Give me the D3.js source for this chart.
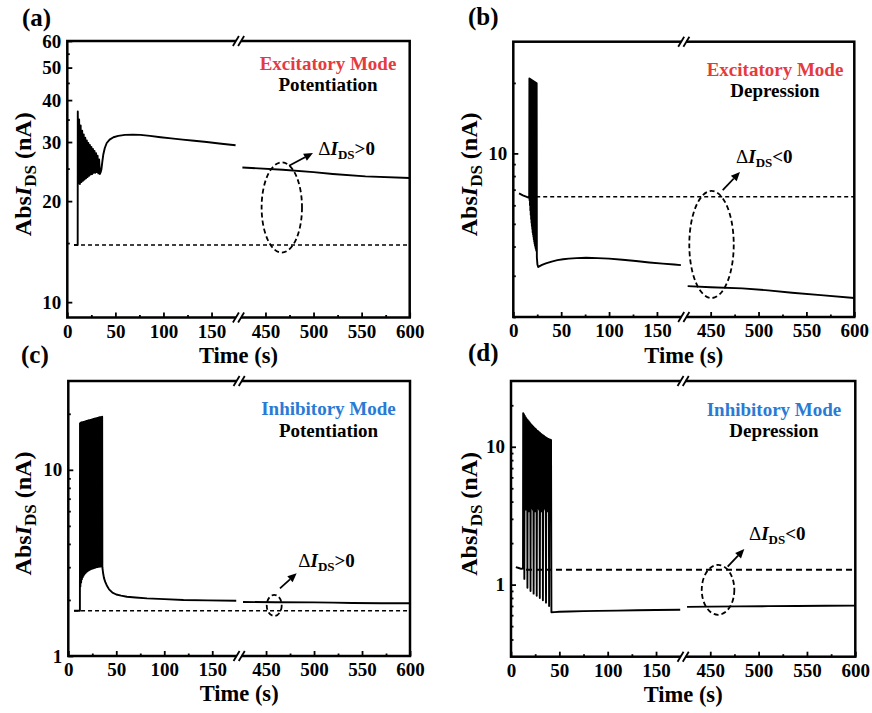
<!DOCTYPE html>
<html>
<head>
<meta charset="utf-8">
<script src="https://cdn.jsdelivr.net/npm/d3@7"></script>
<style>
  body { margin: 0; background: #fff; }
  svg { display: block; }
  text { font-family: "Liberation Serif", "Times New Roman", serif; font-weight: bold; }
</style>
</head>
<body>
<svg id="fig" width="872" height="713"></svg>
<script>
// ---------- data: time (s) vs |I_DS| (nA) ----------
// (a) excitatory mode, potentiation
const aEarly = [[7,14.8],[10.8,14.8],[10.9,37.0],[11.5,22.6],[12.3,35.0],[13.1,22.5],[13.9,33.6],[14.7,22.8],[15.5,32.4],[16.3,23.0],[17.1,31.6],[17.9,23.2],[18.7,30.9],[19.5,23.4],[20.3,30.3],[21.1,23.6],[21.9,29.8],[22.7,23.8],[23.5,29.4],[24.3,24.0],[25.1,29.0],[25.9,24.1],[26.7,28.6],[27.5,24.3],[28.3,28.2],[29.1,24.3],[29.9,27.8],[30.7,24.4],[31.5,27.3],[32.3,24.2],[33.1,26.6],[33.9,24.1],[34.7,24.4],[35.5,24.9],[36.5,26.3],[37.5,27.6],[39,28.8],[41,29.8],[44,30.5],[48,31.0],[53,31.3],[60,31.5],[68,31.55],[76,31.5],[86,31.3],[97,31.0],[108,30.75],[120,30.5],[132,30.25],[145,30.0],[158,29.7],[170,29.45],[175,29.35]];
const aLate = [[426,25.2],[468,24.8],[500,24.4],[520,24.1],[554,23.7],[600,23.45]];
const aBase = 14.8;

// (b) excitatory mode, depression
const bEarly = [[6,6.75],[10,6.62],[14,6.52],[16.6,6.45],[16.8,20.9],[17.0,6.3],[17.2,20.85],[17.4,6.0],[17.6,20.8],[17.8,5.7],[18.0,20.75],[18.2,5.45],[18.4,20.7],[18.6,5.25],[18.8,20.65],[19.0,5.05],[19.2,20.6],[19.4,4.9],[19.6,20.55],[19.8,4.75],[20.0,20.5],[20.2,4.6],[20.4,20.45],[20.6,4.5],[20.8,20.4],[21.0,4.4],[21.2,20.35],[21.4,4.3],[21.6,20.3],[21.8,4.2],[22.0,20.25],[22.2,4.12],[22.4,20.2],[22.6,4.05],[22.8,20.15],[23.0,3.98],[23.2,20.1],[23.4,3.92],[23.6,20.05],[23.8,3.87],[24.0,20.0],[24.2,3.83],[24.4,19.95],[24.6,3.6],[25.2,3.35],[26,3.27],[27,3.29],[30,3.34],[34,3.39],[40,3.45],[46,3.5],[52,3.53],[58,3.55],[66,3.57],[76,3.58],[88,3.57],[100,3.55],[114,3.51],[128,3.47],[142,3.42],[156,3.38],[168,3.35],[175,3.33]];
const bLate = [[426,2.71],[450,2.68],[483,2.65],[510,2.6],[535,2.54],[565,2.48],[600,2.41]];
const bBase = 6.52;

// (c) inhibitory mode, potentiation
const cEarly = [[6,1.75],[12.1,1.75],[12.2,17.8],[12.6,2.36],[13.0,17.9],[13.4,2.48],[13.8,17.95],[14.2,2.58],[14.6,18.0],[15.0,2.65],[15.4,18.05],[15.8,2.7],[16.2,18.1],[16.6,2.74],[17.0,18.15],[17.4,2.77],[17.8,18.2],[18.2,2.8],[18.6,18.25],[19.0,2.83],[19.4,18.3],[19.8,2.85],[20.2,18.35],[20.6,2.87],[21.0,18.4],[21.4,2.89],[21.8,18.45],[22.2,2.9],[22.6,18.5],[23.0,2.92],[23.4,18.55],[23.8,2.93],[24.2,18.6],[24.6,2.94],[25.0,18.65],[25.4,2.95],[25.8,18.7],[26.2,2.96],[26.6,18.75],[27.0,2.97],[27.4,18.8],[27.8,2.98],[28.2,18.85],[28.6,2.99],[29.0,18.9],[29.4,3.0],[29.8,18.95],[30.2,3.0],[30.6,19.0],[31.0,3.01],[31.4,19.05],[31.8,3.01],[32.2,19.1],[32.6,3.02],[33.0,19.15],[33.4,3.02],[33.8,19.2],[34.2,3.03],[34.6,19.25],[35.0,3.03],[35.3,19.3],[35.5,3.0],[36.2,2.8],[37.2,2.62],[38.5,2.5],[40,2.4],[42.5,2.28],[46,2.19],[50,2.14],[55,2.11],[61,2.08],[70,2.06],[82,2.04],[100,2.02],[120,2.0],[145,1.99],[175,1.98]];
const cLate = [[426,1.95],[460,1.945],[500,1.94],[520,1.935],[540,1.925],[570,1.92],[600,1.92]];
const cBase = 1.75;

// (d) inhibitory mode, depression
const dEarly = [[5,1.34],[8,1.32],[10.5,1.3],[12.4,1.31],[12.6,17.5],[13.0,3.6],[13.4,17.2],[13.8,1.1],[14.2,16.8],[14.6,3.8],[15.0,16.4],[15.4,3.5],[15.8,16.1],[16.2,3.9],[16.6,15.8],[17.0,0.95],[17.4,15.6],[17.8,3.7],[18.2,15.35],[18.6,3.4],[19.0,15.1],[19.4,3.8],[19.8,14.85],[20.2,0.9],[20.6,14.6],[21.0,3.6],[21.4,14.4],[21.8,3.9],[22.2,14.2],[22.6,3.5],[23.0,14.0],[23.4,0.86],[23.8,13.8],[24.2,3.7],[24.6,13.65],[25.0,3.4],[25.4,13.5],[25.8,3.8],[26.2,13.3],[26.6,0.83],[27.0,13.1],[27.4,3.6],[27.8,13.0],[28.2,3.9],[28.6,12.85],[29.0,3.5],[29.4,12.7],[29.8,0.8],[30.2,12.6],[30.6,3.7],[31.0,12.45],[31.4,3.4],[31.8,12.3],[32.2,3.8],[32.6,12.2],[33.0,0.77],[33.4,12.1],[33.8,3.6],[34.2,12.0],[34.6,3.9],[35.0,11.85],[35.4,3.5],[35.8,11.75],[36.2,0.74],[36.6,11.65],[37.0,3.7],[37.4,11.55],[37.8,3.4],[38.2,11.45],[38.6,3.8],[39.0,11.4],[39.4,0.7],[39.8,11.3],[40.2,3.6],[40.6,11.25],[41.0,3.7],[41.4,11.2],[41.8,0.63],[45,0.632],[50,0.635],[60,0.638],[75,0.642],[90,0.645],[110,0.648],[130,0.651],[150,0.654],[175,0.657]];
const dLate = [[426,0.69],[450,0.692],[480,0.695],[510,0.698],[540,0.7],[570,0.702],[600,0.704]];
const dBase = 1.28;

// axis ticks
const xMajor1 = [0, 50, 100, 150], xMajor2 = [450, 500, 550, 600];
const xMinor1 = [25, 75, 125], xMinor2 = [475, 525, 575];
const aYMajor = [10, 20, 30, 40, 50, 60];
const aYMinor = [15, 25, 35, 45, 55];
const bYMajor = [10];
const bYMinor = [2, 3, 4, 5, 6, 7, 8, 9, 20];
const cYMajor = [1, 10];
const cYMinor = [2, 3, 4, 5, 6, 7, 8, 9, 20];
const dYMajor = [1, 10];
const dYMinor = [0.4, 0.5, 0.6, 0.7, 0.8, 0.9, 2, 3, 4, 5, 6, 7, 8, 9, 20];

// visible pieces of the broken time axis
const SEG1 = [0, 177], SEG2 = [423, 600];

const RED = '#e53b40', BLUE = '#2a7ad5';

const panels = [
  { tag: '(a)', tagX: 22, tagY: 26, L: 67.3, R: 409.7, T: 41, B: 317.5, yDom: [9, 60],
    yMajor: aYMajor, yMinor: aYMinor, early: aEarly, late: aLate, base: aBase, baseFrom: 7, baseDash: '4,3', baseW: 1.5,
    mode: 'Excitatory Mode', modeColor: RED, kind: 'Potentiation', textX: 328, modeY: 69.5, kindY: 90.5,
    ell: { t0: 446, t1: 488, iTop: 26.1, iBot: 14.05 }, arrow: [[474.5, 25.5], [499.4, 27.8]],
    note: { t: 505, i: 27.5, sign: '>0' }, ytitleX: 31, xtitleY: 362.5 },
  { tag: '(b)', tagX: 468, tagY: 25, L: 513.3, R: 854.3, T: 41.7, B: 317, yDom: [2, 30],
    yMajor: bYMajor, yMinor: bYMinor, early: bEarly, late: bLate, base: bBase, baseFrom: 16.6, baseDash: '4,3', baseW: 1.5,
    mode: 'Excitatory Mode', modeColor: RED, kind: 'Depression', textX: 775, modeY: 76, kindY: 97,
    ell: { t0: 427.7, t1: 474.1, iTop: 6.91, iBot: 2.41 }, arrow: [[462.6, 6.96], [480.6, 8.33]],
    note: { t: 476.5, i: 9.14, sign: '<0' }, ytitleX: 477, xtitleY: 362.5 },
  { tag: '(c)', tagX: 21, tagY: 363, L: 68.3, R: 410, T: 381, B: 656, yDom: [1, 30],
    yMajor: cYMajor, yMinor: cYMinor, early: cEarly, late: cLate, base: cBase, baseFrom: 6, baseDash: '4,3', baseW: 1.5,
    mode: 'Inhibitory Mode', modeColor: BLUE, kind: 'Potentiation', textX: 328.5, modeY: 415, kindY: 437,
    ell: { t0: 450.7, t1: 466.3, iTop: 2.13, iBot: 1.64 }, arrow: [[464.5, 2.31], [481.9, 2.78]],
    note: { t: 483.6, i: 3.02, sign: '>0' }, ytitleX: 31, xtitleY: 701 },
  { tag: '(d)', tagX: 468, tagY: 361, L: 511, R: 855.3, T: 381, B: 656.7, yDom: [0.3, 30],
    yMajor: dYMajor, yMinor: dYMinor, early: dEarly, late: dLate, base: dBase, baseFrom: 15.5, baseDash: '6,4', baseW: 2,
    mode: 'Inhibitory Mode', modeColor: BLUE, kind: 'Depression', textX: 774, modeY: 416, kindY: 437,
    ell: { t0: 441.2, t1: 474.9, iTop: 1.39, iBot: 0.604 }, arrow: [[468, 1.35], [485.2, 1.81]],
    note: { t: 490, i: 2.11, sign: '<0' }, ytitleX: 477, xtitleY: 702 }
];

const svg = d3.select('#fig');
const fmt = d3.format('~g');
const TICK_FONT = 19;

panels.forEach((p, idx) => {
  const g = svg.append('g');
  const gap = 2, w = (p.R - p.L - gap) / 2;
  const x1 = d3.scaleLinear().domain(SEG1).range([p.L, p.L + w]);
  const x2 = d3.scaleLinear().domain(SEG2).range([p.R - w, p.R]);
  const xOf = t => (t <= SEG1[1] ? x1(t) : x2(t));
  const y = d3.scaleLog().domain(p.yDom).range([p.B, p.T]);

  const clipId = 'clip' + idx;
  g.append('clipPath').attr('id', clipId).append('rect')
    .attr('x', p.L).attr('y', p.T).attr('width', p.R - p.L).attr('height', p.B - p.T);

  // reference level before stimulation
  g.append('line')
    .attr('x1', xOf(p.baseFrom)).attr('x2', x2(600))
    .attr('y1', y(p.base)).attr('y2', y(p.base))
    .attr('stroke', '#000').attr('stroke-width', p.baseW).attr('stroke-dasharray', p.baseDash);

  // measured current, drawn per visible time window
  const line = d3.line().y(d => y(d[1]));
  const plot = g.append('g').attr('clip-path', `url(#${clipId})`);
  plot.append('path').datum(p.early).attr('d', line.x(d => x1(d[0])))
    .attr('fill', 'none').attr('stroke', '#000').attr('stroke-width', 1.9).attr('stroke-linejoin', 'round');
  plot.append('path').datum(p.late).attr('d', line.x(d => x2(d[0])))
    .attr('fill', 'none').attr('stroke', '#000').attr('stroke-width', 1.9).attr('stroke-linejoin', 'round');

  // x axes (two windows)
  const gx = g.append('g').attr('transform', `translate(0,${p.B})`);
  [[x1, xMajor1, xMinor1], [x2, xMajor2, xMinor2]].forEach(([sc, maj, min]) => {
    gx.append('g')
      .call(d3.axisBottom(sc).tickValues(maj).tickSize(-5).tickPadding(7).tickFormat(d3.format('d')))
      .attr('font-size', TICK_FONT).attr('font-family', null)
      .call(a => a.select('.domain').remove())
      .call(a => a.selectAll('line').attr('stroke-width', 1.8));
    gx.append('g')
      .call(d3.axisBottom(sc).tickValues(min).tickSize(-2.5).tickFormat(''))
      .call(a => a.select('.domain').remove())
      .call(a => a.selectAll('line').attr('stroke-width', 1.8));
  });

  // y axis
  const gy = g.append('g').attr('transform', `translate(${p.L},0)`);
  gy.append('g')
    .call(d3.axisLeft(y).tickValues(p.yMajor).tickSize(-5).tickPadding(6).tickFormat(fmt))
    .attr('font-size', TICK_FONT).attr('font-family', null)
    .call(a => a.select('.domain').remove())
    .call(a => a.selectAll('line').attr('stroke-width', 1.8));
  gy.append('g')
    .call(d3.axisLeft(y).tickValues(p.yMinor).tickSize(-2.5).tickFormat(''))
    .call(a => a.select('.domain').remove())
    .call(a => a.selectAll('line').attr('stroke-width', 1.8));

  // frame
  g.append('rect').attr('x', p.L).attr('y', p.T).attr('width', p.R - p.L).attr('height', p.B - p.T)
    .attr('fill', 'none').attr('stroke', '#000').attr('stroke-width', 2.5);

  // axis break marks
  const xm = (p.L + p.R) / 2;
  [p.T, p.B].forEach(yy => {
    g.append('rect').attr('x', xm - 2.5).attr('y', yy - 3).attr('width', 5).attr('height', 6).attr('fill', '#fff');
    [-2.6, 2.6].forEach(dx => g.append('line')
      .attr('x1', xm + dx - 3).attr('y1', yy + 5).attr('x2', xm + dx + 3).attr('y2', yy - 5)
      .attr('stroke', '#000').attr('stroke-width', 1.8));
  });

  // titles
  g.append('text').attr('x', p.tagX).attr('y', p.tagY).attr('font-size', 25).text(p.tag);
  g.append('text').attr('x', p.textX).attr('y', p.modeY).attr('text-anchor', 'middle')
    .attr('font-size', 19).attr('fill', p.modeColor).text(p.mode);
  g.append('text').attr('x', p.textX).attr('y', p.kindY).attr('text-anchor', 'middle')
    .attr('font-size', 19).attr('fill', '#000').text(p.kind);

  g.append('text').attr('x', xm).attr('y', p.xtitleY).attr('text-anchor', 'middle')
    .attr('font-size', 22.5).text('Time (s)');

  const yt = g.append('text')
    .attr('transform', `translate(${p.ytitleX},${(p.T + p.B) / 2 - 5}) rotate(-90)`)
    .attr('text-anchor', 'middle').attr('font-size', 24);
  yt.append('tspan').text('Abs');
  yt.append('tspan').attr('font-style', 'italic').text('I');
  yt.append('tspan').attr('font-size', 17).attr('dy', 5).text('DS');
  yt.append('tspan').attr('dy', -5).text(' (nA)');

  // dashed ellipse marking the change, arrow and label
  const ex0 = x2(p.ell.t0), ex1 = x2(p.ell.t1), ey0 = y(p.ell.iTop), ey1 = y(p.ell.iBot);
  g.append('ellipse').attr('cx', (ex0 + ex1) / 2).attr('cy', (ey0 + ey1) / 2)
    .attr('rx', (ex1 - ex0) / 2).attr('ry', (ey1 - ey0) / 2)
    .attr('fill', 'none').attr('stroke', '#000').attr('stroke-width', 1.8).attr('stroke-dasharray', '5,3');

  const ax0 = x2(p.arrow[0][0]), ay0 = y(p.arrow[0][1]);
  const ax1 = x2(p.arrow[1][0]), ay1 = y(p.arrow[1][1]);
  const ang = Math.atan2(ay1 - ay0, ax1 - ax0);
  const hl = 9, hw = 4;
  const bx = ax1 - hl * Math.cos(ang), by = ay1 - hl * Math.sin(ang);
  g.append('line').attr('x1', ax0).attr('y1', ay0).attr('x2', bx).attr('y2', by)
    .attr('stroke', '#000').attr('stroke-width', 1.8);
  g.append('path')
    .attr('d', `M${ax1},${ay1}L${bx - hw * Math.sin(ang)},${by + hw * Math.cos(ang)}L${bx + hw * Math.sin(ang)},${by - hw * Math.cos(ang)}Z`)
    .attr('fill', '#000');

  const nt = g.append('text').attr('x', x2(p.note.t)).attr('y', y(p.note.i)).attr('font-size', 19);
  nt.append('tspan').attr('font-weight', 'normal').text('Δ');
  nt.append('tspan').attr('font-style', 'italic').text('I');
  nt.append('tspan').attr('font-size', 13).attr('dy', 4).text('DS');
  nt.append('tspan').attr('dy', -4).text(p.note.sign);
});
</script>
</body>
</html>
